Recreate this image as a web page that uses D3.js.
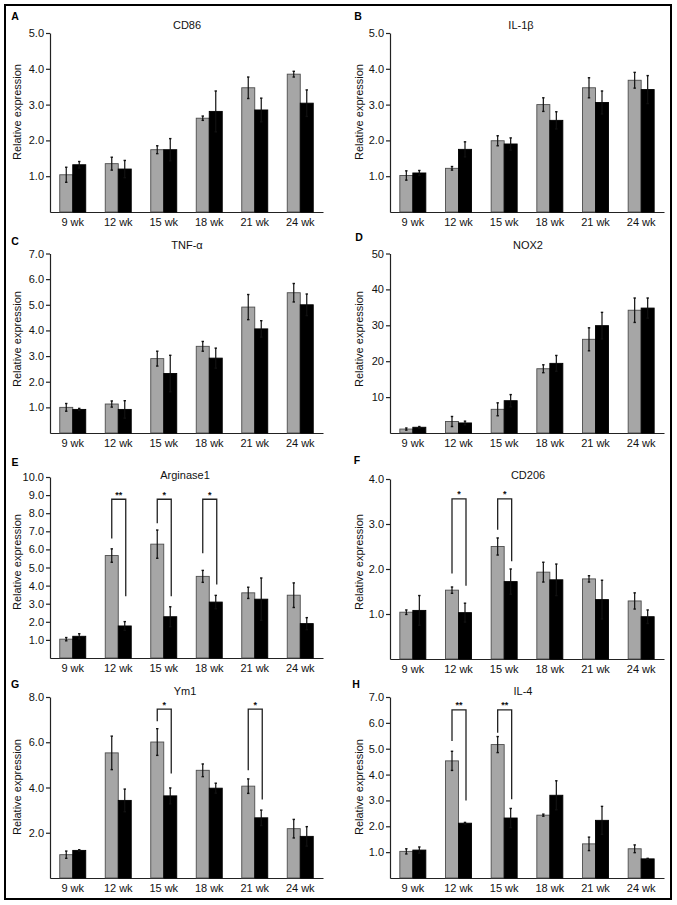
<!DOCTYPE html>
<html>
<head>
<meta charset="utf-8">
<script src="https://cdn.jsdelivr.net/npm/d3@7"></script>
<style>
  html, body { margin: 0; padding: 0; background: #fff; }
  svg { display: block; font-family: Arial, "Liberation Sans", sans-serif; }
</style>
</head>
<body>
<svg id="chart" width="677" height="905"></svg>
<script>
// ---------- DATA ----------
const weeks = ["9 wk", "12 wk", "15 wk", "18 wk", "21 wk", "24 wk"];

const cd86Gray     = [1.04, 1.35, 1.74, 2.62, 3.47, 3.85];
const cd86GrayErr  = [0.21, 0.18, 0.11, 0.06, 0.30, 0.08];
const cd86Black    = [1.32, 1.20, 1.74, 2.81, 2.85, 3.04];
const cd86BlackErr = [0.09, 0.24, 0.31, 0.57, 0.33, 0.37];

const il1bGray     = [1.02, 1.22, 1.99, 3.00, 3.47, 3.68];
const il1bGrayErr  = [0.13, 0.05, 0.14, 0.19, 0.28, 0.22];
const il1bBlack    = [1.09, 1.75, 1.90, 2.56, 3.06, 3.42];
const il1bBlackErr = [0.07, 0.21, 0.17, 0.24, 0.32, 0.39];

const tnfGray      = [1.00, 1.13, 2.90, 3.38, 4.91, 5.47];
const tnfGrayErr   = [0.15, 0.12, 0.29, 0.19, 0.49, 0.36];
const tnfBlack     = [0.92, 0.92, 2.32, 2.92, 4.06, 5.00];
const tnfBlackErr  = [0.04, 0.34, 0.71, 0.39, 0.32, 0.42];

const nox2Gray     = [1.1, 3.2, 6.6, 17.9, 26.1, 34.2];
const nox2GrayErr  = [0.3, 1.4, 1.8, 1.1, 3.2, 3.4];
const nox2Black    = [1.6, 2.8, 9.0, 19.4, 29.9, 34.8];
const nox2BlackErr = [0.2, 0.5, 1.7, 2.2, 3.7, 2.8];

const argGray      = [1.04, 5.66, 6.29, 4.51, 3.60, 3.47];
const argGrayErr   = [0.09, 0.37, 0.78, 0.33, 0.31, 0.68];
const argBlack     = [1.20, 1.77, 2.28, 3.09, 3.25, 1.90];
const argBlackErr  = [0.14, 0.24, 0.55, 0.37, 1.17, 0.33];

const cd206Gray     = [1.04, 1.53, 2.50, 1.93, 1.78, 1.29];
const cd206GrayErr  = [0.05, 0.07, 0.19, 0.22, 0.07, 0.18];
const cd206Black    = [1.08, 1.03, 1.72, 1.76, 1.32, 0.94];
const cd206BlackErr = [0.33, 0.21, 0.28, 0.35, 0.43, 0.15];

const ym1Gray      = [1.03, 5.53, 6.01, 4.76, 4.06, 2.18];
const ym1GrayErr   = [0.16, 0.74, 0.59, 0.28, 0.32, 0.41];
const ym1Black     = [1.22, 3.43, 3.63, 3.97, 2.66, 1.84];
const ym1BlackErr  = [0.03, 0.50, 0.35, 0.22, 0.34, 0.43];

const il4Gray      = [1.03, 4.53, 5.16, 2.43, 1.32, 1.13];
const il4GrayErr   = [0.10, 0.37, 0.31, 0.04, 0.26, 0.15];
const il4Black     = [1.08, 2.12, 2.32, 3.20, 2.23, 0.74];
const il4BlackErr  = [0.12, 0.03, 0.37, 0.56, 0.54, 0.02];

// tick labels
const ticksA = [1, 2, 3, 4, 5];
const ticksB = [1, 2, 3, 4, 5];
const ticksC = [1, 2, 3, 4, 5, 6, 7];
const ticksD = [10, 20, 30, 40, 50];
const ticksE = [1, 2, 3, 4, 5, 6, 7, 8, 9, 10];
const ticksF = [1, 2, 3, 4];
const ticksG = [2, 4, 6, 8];
const ticksH = [1, 2, 3, 4, 5, 6, 7];

// significance brackets: group index, top, left leg end, right leg end, label
const sigE = [
  {i: 1, top: 8.77, l: 6.6,  r: 3.41, s: "**"},
  {i: 2, top: 8.77, l: 7.44, r: 3.41, s: "*"},
  {i: 3, top: 8.77, l: 5.79, r: 4.06, s: "*"}
];
const sigF = [
  {i: 1, top: 3.56, l: 1.90, r: 1.63, s: "*"},
  {i: 2, top: 3.56, l: 2.87, r: 2.17, s: "*"}
];
const sigG = [
  {i: 2, top: 7.46, l: 6.93, r: 4.62, s: "*"},
  {i: 4, top: 7.46, l: 4.76, r: 3.47, s: "*"}
];
const sigH = [
  {i: 1, top: 6.5, l: 5.3,  r: 3.0,  s: "**"},
  {i: 2, top: 6.5, l: 5.62, r: 3.05, s: "**"}
];

// ---------- PANELS ----------
const panels = [
  {letter: "A", title: "CD86",      gray: cd86Gray,  grayErr: cd86GrayErr,  black: cd86Black,  blackErr: cd86BlackErr,  ticks: ticksA, fmt: ".1f", sig: []},
  {letter: "B", title: "IL-1β",     gray: il1bGray,  grayErr: il1bGrayErr,  black: il1bBlack,  blackErr: il1bBlackErr,  ticks: ticksB, fmt: ".1f", sig: []},
  {letter: "C", title: "TNF-α",     gray: tnfGray,   grayErr: tnfGrayErr,   black: tnfBlack,   blackErr: tnfBlackErr,   ticks: ticksC, fmt: ".1f", sig: []},
  {letter: "D", title: "NOX2",      gray: nox2Gray,  grayErr: nox2GrayErr,  black: nox2Black,  blackErr: nox2BlackErr,  ticks: ticksD, fmt: "d",   sig: []},
  {letter: "E", title: "Arginase1", gray: argGray,   grayErr: argGrayErr,   black: argBlack,   blackErr: argBlackErr,   ticks: ticksE, fmt: ".1f", sig: sigE},
  {letter: "F", title: "CD206",     gray: cd206Gray, grayErr: cd206GrayErr, black: cd206Black, blackErr: cd206BlackErr, ticks: ticksF, fmt: ".1f", sig: sigF},
  {letter: "G", title: "Ym1",       gray: ym1Gray,   grayErr: ym1GrayErr,   black: ym1Black,   blackErr: ym1BlackErr,   ticks: ticksG, fmt: ".1f", sig: sigG},
  {letter: "H", title: "IL-4",      gray: il4Gray,   grayErr: il4GrayErr,   black: il4Black,   blackErr: il4BlackErr,   ticks: ticksH, fmt: ".1f", sig: sigH}
];

// layout (positions only)
const colX = [[50, 323], [390, 664]];
const rowY = [[33, 212], [253.5, 433], [477, 658], [697, 878]];
const rowYF = [479, 659];
const ylabelCY = [112, 339, 562, 787];
const ylabelCX = [17, 359];
const letterPos = [[15, 20], [358, 20], [15, 245], [359, 241], [15, 466], [357, 464], [15, 688], [356, 688]];
const titlePos = [[187, 29], [521, 29], [187, 249], [528, 249], [185, 479], [528, 479], [185, 695], [523, 695]];

const svg = d3.select("#chart");
const textColor = "#111";

// outer frame
svg.append("rect")
  .attr("x", 5).attr("y", 5).attr("width", 666).attr("height", 894)
  .attr("fill", "none").attr("stroke", "#000").attr("stroke-width", 2);

panels.forEach((p, k) => {
  const col = k % 2, row = Math.floor(k / 2);
  const [x0, x1] = colX[col];
  let [yTop, yBase] = rowY[row];
  if (p.letter === "F") [yTop, yBase] = rowYF;
  const ymax = p.ticks[p.ticks.length - 1];

  const x = d3.scaleBand().domain(weeks).range([x0, x1]).padding(0);
  const y = d3.scaleLinear().domain([0, ymax]).range([yBase, yTop]);
  const bw = 13;

  const g = svg.append("g");

  // y axis
  const yAxis = d3.axisLeft(y).tickValues(p.ticks).tickSize(4).tickSizeOuter(0)
    .tickFormat(d3.format(p.fmt));
  const ya = g.append("g").attr("transform", `translate(${x0},0)`).call(yAxis);
  ya.select(".domain").attr("stroke", "#222").attr("stroke-width", 1.2);
  ya.selectAll(".tick line").attr("stroke", "#222").attr("stroke-width", 1.2);
  ya.selectAll(".tick text").attr("font-size", 11).attr("fill", textColor)
    .attr("font-family", "Arial, 'Liberation Sans', sans-serif").attr("x", -6);

  // x axis
  const xAxis = d3.axisBottom(x).tickSize(0).tickPadding(6);
  const xa = g.append("g").attr("transform", `translate(0,${yBase})`).call(xAxis);
  xa.select(".domain").attr("stroke", "#222").attr("stroke-width", 1.2);
  xa.selectAll(".tick text").attr("font-size", 11).attr("fill", textColor)
    .attr("font-family", "Arial, 'Liberation Sans', sans-serif");

  // bars
  const groups = weeks.map((w, i) => ({w, i}));
  g.selectAll("rect.gray").data(groups).enter().append("rect")
    .attr("x", d => x(d.w) + x.bandwidth() / 2 - bw)
    .attr("y", d => y(p.gray[d.i]))
    .attr("width", bw)
    .attr("height", d => yBase - y(p.gray[d.i]))
    .attr("fill", "#a6a6a6").attr("stroke", "#4d4d4d").attr("stroke-width", 0.9);
  g.selectAll("rect.black").data(groups).enter().append("rect")
    .attr("x", d => x(d.w) + x.bandwidth() / 2)
    .attr("y", d => y(p.black[d.i]))
    .attr("width", bw)
    .attr("height", d => yBase - y(p.black[d.i]))
    .attr("fill", "#000").attr("stroke", "#000").attr("stroke-width", 0.9);

  // error bars
  const errs = [];
  groups.forEach(d => {
    errs.push({cx: x(d.w) + x.bandwidth() / 2 - bw / 2, v: p.gray[d.i], e: p.grayErr[d.i]});
    errs.push({cx: x(d.w) + x.bandwidth() / 2 + bw / 2, v: p.black[d.i], e: p.blackErr[d.i]});
  });
  errs.forEach(d => {
    const lo = y(Math.max(0, d.v - d.e)), hi = y(d.v + d.e);
    g.append("line").attr("x1", d.cx).attr("x2", d.cx).attr("y1", lo).attr("y2", hi)
      .attr("stroke", "#111").attr("stroke-width", 1.2);
    [lo, hi].forEach(yy => g.append("line")
      .attr("x1", d.cx - 1.2).attr("x2", d.cx + 1.2).attr("y1", yy).attr("y2", yy)
      .attr("stroke", "#111").attr("stroke-width", 1.4));
  });

  // significance brackets
  p.sig.forEach(s => {
    const w = weeks[s.i];
    const lx = x(w) + x.bandwidth() / 2 - bw / 2;
    const rx = x(w) + x.bandwidth() / 2 + bw / 2 + 1;
    g.append("path")
      .attr("d", `M${lx},${y(s.l)}V${y(s.top)}H${rx}V${y(s.r)}`)
      .attr("fill", "none").attr("stroke", "#222").attr("stroke-width", 1.3);
    g.append("text").attr("x", (lx + rx) / 2).attr("y", y(s.top) - 1.5)
      .attr("text-anchor", "middle").attr("font-size", 9).attr("font-weight", "bold")
      .attr("fill", textColor).text(s.s);
  });

  // y label
  g.append("text")
    .attr("transform", `translate(${ylabelCX[col]},${ylabelCY[row]}) rotate(-90)`)
    .attr("text-anchor", "middle").attr("dominant-baseline", "central")
    .attr("font-size", 11).attr("fill", textColor).text("Relative expression");

  // title
  g.append("text").attr("x", titlePos[k][0]).attr("y", titlePos[k][1])
    .attr("text-anchor", "middle").attr("font-size", 11).attr("fill", textColor).text(p.title);

  // panel letter
  g.append("text").attr("x", letterPos[k][0]).attr("y", letterPos[k][1])
    .attr("text-anchor", "middle").attr("font-size", 10.5).attr("font-weight", "bold")
    .attr("fill", "#000").text(p.letter);
});
</script>
</body>
</html>
